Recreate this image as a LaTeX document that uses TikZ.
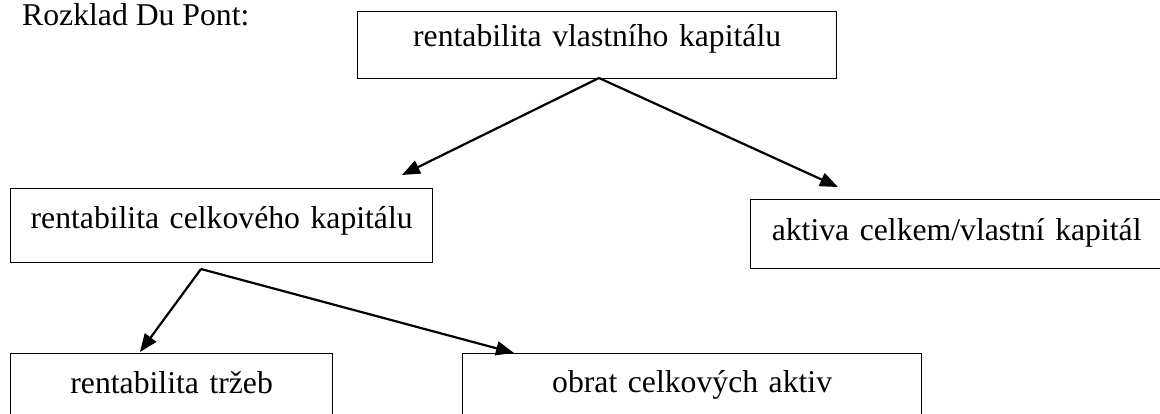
\documentclass[tikz,border=0pt]{standalone}
\usepackage{fontspec}
\setmainfont{Liberation Serif}
\usetikzlibrary{arrows.meta}
\begin{document}
\begin{tikzpicture}[x=1pt,y=-1pt,
  every node/.style={font=\fontsize{31.7}{38}\selectfont},
  box/.style={draw, line width=1.3pt, inner sep=0pt, anchor=north west, align=center},
  link/.style={line width=2.2pt, -{Triangle[length=18pt,width=14pt]}}]
  \useasboundingbox (0,0) rectangle (1160,414);
  % heading
  \node[anchor=base west, inner sep=0pt] (title) at (22,26) {Rozklad Du Pont:};
  % boxes: text height = top-to-baseline, text depth = baseline-to-bottom
  \node[box, text width=479pt, text height=35pt, text depth=32pt] (roe) at (357,11)
    {rentabilita vlastního kapitálu};
  \node[box, text width=422pt, text height=40pt, text depth=34pt] (roa) at (10,188)
    {rentabilita celkového kapitálu};
  \node[box, text width=412pt, text height=41pt, text depth=28pt] (lev) at (750,199)
    {aktiva celkem/vlastní kapitál};
  \node[box, text width=322pt, text height=40pt, text depth=50pt] (ros) at (10,353)
    {rentabilita tržeb};
  \node[box, text width=459pt, text height=39pt, text depth=51pt] (ato) at (462,353)
    {obrat celkových aktiv};
  % arrow end points
  \coordinate (roeapex) at (599,78);
  \coordinate (roatip) at (402,175);
  \coordinate (levtip) at (838,187);
  \coordinate (roaapex) at (201,269);
  \coordinate (rostip) at (140,352);
  \coordinate (atotip) at (514,353);
  \draw[link] (roeapex) -- (roatip);
  \draw[link] (roeapex) -- (levtip);
  \draw[link] (roaapex) -- (rostip);
  \draw[link] (roaapex) -- (atotip);
\end{tikzpicture}
\end{document}
